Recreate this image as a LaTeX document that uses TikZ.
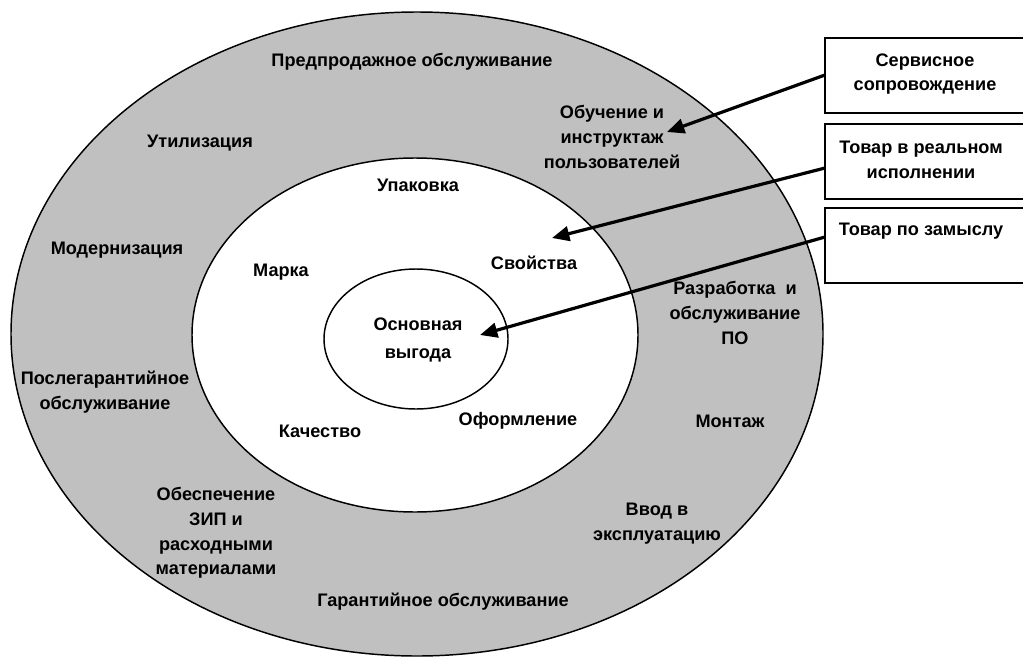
\documentclass[tikz,border=0pt]{standalone}
\usepackage{fontspec}
\setmainfont{Liberation Sans}
\usetikzlibrary{arrows.meta}
\definecolor{ringgrey}{HTML}{C0C0C0}
\begin{document}
\begin{tikzpicture}[x=0.75pt,y=-0.75pt,
  lbl/.style={font=\bfseries\fontsize{13.6}{18.6}\selectfont,align=center,inner sep=0pt},
  boxlbl/.style={font=\bfseries\fontsize{13.6}{18.3}\selectfont,align=center,inner sep=0pt},
  ring/.style={draw=black,line width=1.1pt},
  framebox/.style={draw=black,line width=1.4pt,fill=white},
  pointer/.style={line width=2.4pt,-{Triangle[length=13pt,width=11pt]},shorten >=0pt}]
\useasboundingbox (0,0) rectangle (1023,660);
\clip (0,0) rectangle (1023,660);
% rings
\draw[ring,fill=ringgrey] (417,334) ellipse [x radius=406,y radius=322];
\draw[ring,fill=white] (415,335) ellipse [x radius=223,y radius=177];
\draw[ring,fill=white] (416,339) ellipse [x radius=92,y radius=70];
% boxes
\draw[framebox] (825,38) rectangle (1030,113);
\draw[framebox] (825,124) rectangle (1030,199);
\draw[framebox] (825,208) rectangle (1030,283);
\coordinate (b1) at (825,75);
\coordinate (b2) at (825,168);
\coordinate (b3) at (825,237);
\node[boxlbl] (s1) at (925,74) {Сервисное\\сопровождение};
\node[boxlbl] (s2) at (921,160) {Товар в реальном\\исполнении};
\node[boxlbl] (s3) at (921,231) {Товар по замыслу};
% outer ring labels
\node[lbl] (pre) at (412,62) {Предпродажное обслуживание};
\node[lbl] (util) at (200,143) {Утилизация};
\node[lbl] (mod) at (117,250) {Модернизация};
\node[lbl] (post) at (105,392) {Послегарантийное\\обслуживание};
\node[lbl] (zip) at (216,533) {Обеспечение\\ЗИП и\\расходными\\материалами};
\node[lbl] (gar) at (443,602) {Гарантийное обслуживание};
\node[lbl] (vvod) at (657,524) {Ввод в\\эксплуатацию};
\node[lbl] (mont) at (730,421) {Монтаж};
\node[lbl] (razr) at (735,313) {Разработка\ \ и\\обслуживание\\ПО};
\node[lbl] (obuch) at (612,137) {Обучение и\\инструктаж\\пользователей};
% middle ring labels
\node[lbl] (upak) at (418,185) {Упаковка};
\node[lbl] (marka) at (281,272) {Марка};
\node[lbl] (svoy) at (534,263) {Свойства};
\node[lbl] (kach) at (320,431) {Качество};
\node[lbl] (oform) at (518,421) {Оформление};
% core
\node[lbl,font=\bfseries\fontsize{13.6}{21.5}\selectfont] (core) at (418,340) {Основная\\выгода};
% arrows
\coordinate (t1) at (667,132);
\coordinate (t2) at (552,238);
\coordinate (t3) at (480,335);
\draw[pointer] (b1) -- (t1);
\draw[pointer] (b2) -- (t2);
\draw[pointer] (b3) -- (t3);
\end{tikzpicture}
\end{document}
